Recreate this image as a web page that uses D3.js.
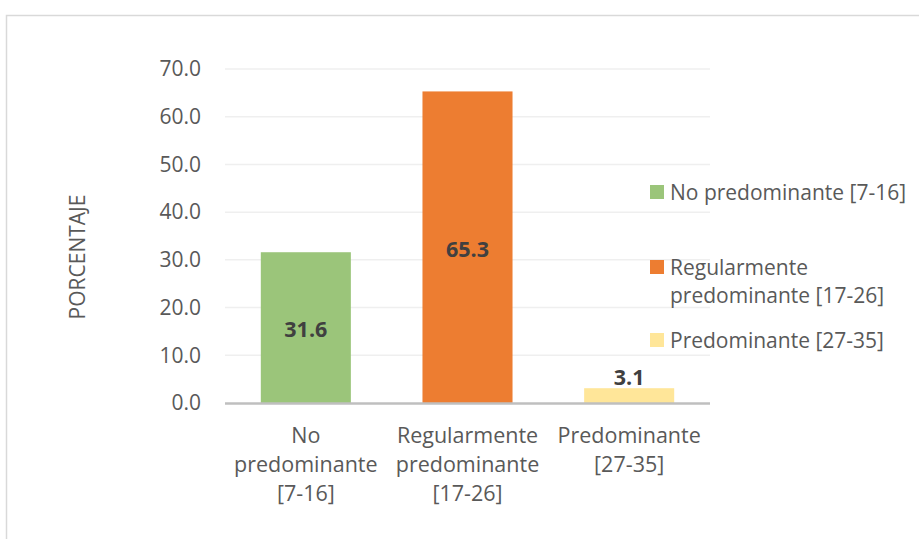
<!DOCTYPE html>
<html>
<head>
<meta charset="utf-8">
<script src="https://cdn.jsdelivr.net/npm/d3@7"></script>
<style>
  body { margin: 0; background: #fff; }
  text { font-family: "Open Sans", "Noto Sans", sans-serif; }
</style>
</head>
<body>
<div id="chart"></div>
<script>
const categories = [["No", "predominante", "[7-16]"], ["Regularmente", "predominante", "[17-26]"], ["Predominante", "[27-35]"]]
const values = [31.6, 65.3, 3.1]
const legendLabels = [["No predominante [7-16]"], ["Regularmente", "predominante [17-26]"], ["Predominante [27-35]"]]
const colors = ["#9BC57A", "#ED7D31", "#FFE699"]
const yTicks = [0, 10, 20, 30, 40, 50, 60, 70]

const W = 919, H = 539
const margin = ({top: 69, left: 225, right: 209, bottom: 136})
const width = W - margin.left - margin.right
const height = H - margin.top - margin.bottom

const svg = d3.select("#chart").append("svg")
    .attr("width", W)
    .attr("height", H)

// outer frame
svg.append("rect")
    .attr("x", 6.5).attr("y", 15.5)
    .attr("width", W + 20).attr("height", H)
    .attr("fill", "none")
    .attr("stroke", "#D9D9D9")
    .attr("stroke-width", 1.5)

const g = svg.append("g")
    .attr("transform", `translate(${margin.left},${margin.top})`)

const x = d3.scaleBand()
    .domain(d3.range(values.length))
    .range([0, width])
    .paddingInner(0.443)
    .paddingOuter(0.2215)

const y = d3.scaleLinear().domain([0, 70]).range([height, 0])

// gridlines
g.append("g")
    .selectAll("line")
    .data(yTicks.slice(1))
    .join("line")
    .attr("x1", 0).attr("x2", width)
    .attr("y1", d => y(d)).attr("y2", d => y(d))
    .attr("stroke", "#EFEFEF")
    .attr("stroke-width", 1.5)

const yAxis = d3.axisLeft(y)
    .tickValues(yTicks)
    .tickFormat(d3.format(".1f"))
    .tickSize(0)
    .tickPadding(24)

g.append("g")
    .attr("class", "y-axis")
    .call(yAxis)
    .call(s => s.select(".domain").remove())
    .selectAll("text")
    .attr("font-size", 21)
    .attr("fill", "#595959")
    .attr("font-family", "Open Sans")

// bars
g.selectAll(".bar")
    .data(values)
    .join("rect")
    .attr("class", "bar")
    .attr("x", (d, i) => x(i))
    .attr("y", d => y(d))
    .attr("width", x.bandwidth())
    .attr("height", d => y(0) - y(d))
    .attr("fill", (d, i) => colors[i])

// x axis line
g.append("line")
    .attr("x1", 0).attr("x2", width)
    .attr("y1", y(0) + 0.5).attr("y2", y(0) + 0.5)
    .attr("stroke", "#BFBFBF")
    .attr("stroke-width", 2.5)

// data labels: centred in the bar, above it when the bar is too short
g.selectAll(".lbl")
    .data(values)
    .join("text")
    .attr("class", "lbl")
    .attr("x", (d, i) => x(i) + x.bandwidth() / 2)
    .attr("y", d => d < 10 ? y(d) - 12 : (y(d) + y(0)) / 2 + 1)
    .attr("text-anchor", "middle")
    .attr("dominant-baseline", "central")
    .attr("font-size", 21.5)
    .attr("font-weight", "bold")
    .attr("fill", "#404040")
    .text(d => d.toFixed(1))

// category labels
const cat = g.selectAll(".cat")
    .data(categories)
    .join("text")
    .attr("class", "cat")
    .attr("text-anchor", "middle")
    .attr("font-size", 21.5)
    .attr("fill", "#595959")
    .attr("transform", (d, i) => `translate(${x(i) + x.bandwidth() / 2},${height + 40})`)

cat.selectAll("tspan")
    .data(d => d)
    .join("tspan")
    .attr("x", 0)
    .attr("dy", (d, i) => i === 0 ? 0 : 29)
    .text(d => d)

// y title
svg.append("text")
    .attr("transform", "translate(85,257) rotate(-90)")
    .attr("text-anchor", "middle")
    .attr("font-size", 21)
    .attr("fill", "#595959")
    .text("PORCENTAJE")

// legend
const legendY = [192, 267, 340]
const leg = svg.append("g").selectAll("g")
    .data(legendLabels)
    .join("g")
    .attr("transform", (d, i) => `translate(650,${legendY[i]})`)

leg.append("rect")
    .attr("x", 0).attr("y", -7)
    .attr("width", 14).attr("height", 14)
    .attr("fill", (d, i) => colors[i])

leg.append("text")
    .attr("x", 20)
    .attr("font-size", 21)
    .attr("fill", "#595959")
    .attr("dominant-baseline", "central")
    .selectAll("tspan")
    .data(d => d)
    .join("tspan")
    .attr("x", 20)
    .attr("dy", (d, i) => i === 0 ? 0 : 28)
    .text(d => d)
</script>
</body>
</html>
